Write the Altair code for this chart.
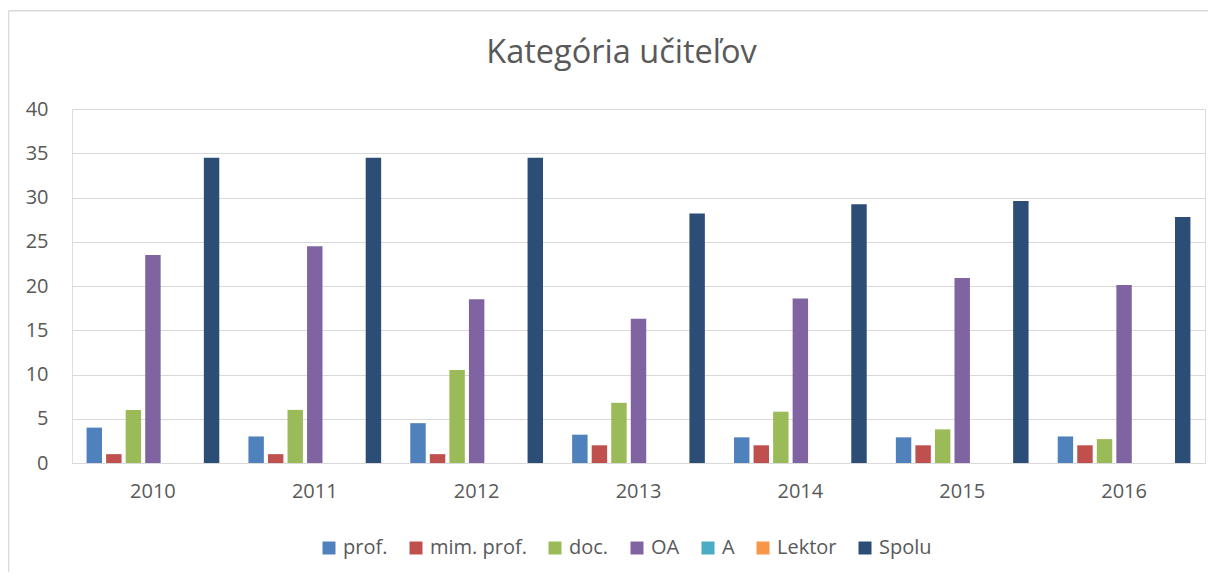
import altair as alt
import pandas as pd

years = ["2010", "2011", "2012", "2013", "2014", "2015", "2016"]
series = ["prof.", "mim. prof.", "doc.", "OA", "A", "Lektor", "Spolu"]
prof = [4, 3, 4.5, 3.2, 2.9, 2.9, 3]
mim_prof = [1, 1, 1, 2, 2, 2, 2]
doc = [6, 6, 10.5, 6.8, 5.8, 3.8, 2.7]
oa = [23.5, 24.5, 18.5, 16.3, 18.6, 20.9, 20.1]
a = [0, 0, 0, 0, 0, 0, 0]
lektor = [0, 0, 0, 0, 0, 0, 0]
spolu = [34.5, 34.5, 34.5, 28.2, 29.25, 29.6, 27.8]
colors = ["#4F81BD", "#C0504D", "#9BBB59", "#8064A2", "#4BACC6", "#F79646", "#2C4D75"]

values = [prof, mim_prof, doc, oa, a, lektor, spolu]
rows = []
for s, vals in zip(series, values):
    for y, v in zip(years, vals):
        rows.append({"rok": y, "kat": s, "hodnota": v})
df = pd.DataFrame(rows)

FONT = "Open Sans"
TXT = "#595959"
GRID = "#D9D9D9"

bars = alt.Chart(df).mark_bar().encode(
    x=alt.X("rok:N", sort=years,
            scale=alt.Scale(paddingInner=0.18, paddingOuter=0.09),
            axis=alt.Axis(title=None, labelAngle=0, ticks=False, domainColor=GRID,
                          domainWidth=1, labelPadding=18, labelFontSize=20,
                          labelFont=FONT, labelColor=TXT)),
    xOffset=alt.XOffset("kat:N", sort=series,
                        scale=alt.Scale(paddingInner=0.21, paddingOuter=0)),
    y=alt.Y("hodnota:Q", scale=alt.Scale(domain=[0, 40]),
            axis=alt.Axis(title=None, values=list(range(0, 45, 5)), ticks=False,
                          domain=False, gridColor=GRID, gridWidth=1,
                          labelPadding=24, labelFontSize=20, labelFont=FONT,
                          labelColor=TXT)),
    color=alt.Color("kat:N", sort=series,
                    scale=alt.Scale(domain=series, range=colors),
                    legend=alt.Legend(title=None, orient="none", legendX=247,
                                      legendY=429, direction="horizontal",
                                      symbolType="square", symbolSize=169,
                                      symbolStrokeWidth=0, labelFontSize=20,
                                      labelFont=FONT, labelColor=TXT,
                                      columnPadding=18, labelOffset=4)),
)

frame_df = pd.DataFrame({"k": [0]})
left_line = alt.Chart(frame_df).mark_rule(color=GRID, strokeWidth=1.5).encode(
    x=alt.value(-63.5), y=alt.value(-98.3), y2=alt.value(463))
top_line = alt.Chart(frame_df).mark_rule(color=GRID, strokeWidth=1.5).encode(
    y=alt.value(-98.3), x=alt.value(-63.5), x2=alt.value(1136))

chart = alt.layer(left_line, top_line, bars).properties(
    width=1133, height=354,
    title=alt.TitleParams("Kategória učiteľov", fontSize=32.5, font=FONT,
                          fontWeight="normal", color=TXT, anchor="middle",
                          dx=-17, offset=-60),
    padding={"left": 64, "top": 101, "right": 3, "bottom": 109},
    autosize=alt.AutoSizeParams(type="none"),
).configure_view(stroke=None).configure(background="white")

chart.save("out.html", embed_options={"renderer": "svg", "actions": False})
